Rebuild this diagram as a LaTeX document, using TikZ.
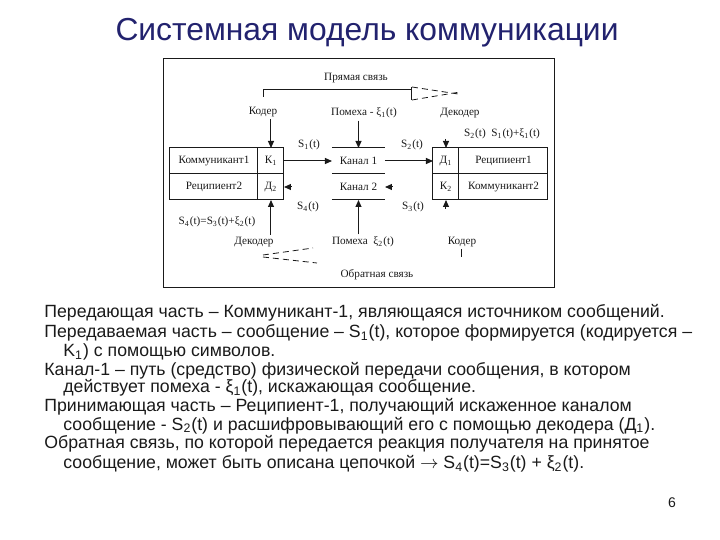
\documentclass[tikz,border=0pt]{standalone}
\usepackage{fontspec}
\setmainfont{Liberation Sans}
\newfontfamily\dgfont{Liberation Serif}
\usetikzlibrary{arrows.meta,positioning}
\definecolor{cTitle}{HTML}{22226E}
\definecolor{cInk}{HTML}{1A1A1A}
\tikzset{
  >={Triangle[length=3.5pt,width=3pt]},
  cell/.style ={draw=cInk,line width=0.5pt,minimum height=13pt,inner sep=0pt,
                outer sep=0pt,font=\dgfont\fontsize{5.6}{6}\selectfont,text=cInk},
  lbl/.style  ={font=\dgfont\fontsize{5.6}{6}\selectfont,inner sep=1pt,text=cInk},
  ln/.style   ={line width=0.5pt,cInk},
  ar/.style   ={->,line width=0.5pt,cInk},
  brk/.style  ={dash pattern=on 3pt off 2pt,line width=0.4pt,cInk},
  para/.style ={anchor=base west,inner sep=0pt,font=\fontsize{8.85}{10}\selectfont,text=cInk},
}

\begin{document}
\begin{tikzpicture}[x=0.5pt,y=-0.5pt]
\useasboundingbox (0,0) rectangle (720,540);
% title
\node[font=\fontsize{15.9}{18}\selectfont,text=cTitle,anchor=base] (title) at (367,41)
   {Системная модель коммуникации};
% frame
\draw[ln] (164,59) rectangle (555,288);
% sender block
\node[cell,minimum width=44pt] (kom1) at (214,161) {Коммуникант1};
\node[cell,minimum width=13pt,right=0pt of kom1] (k1) {К\textsubscript{1}};
\node[cell,minimum width=44pt,below=0pt of kom1] (rec2) {Реципиент2};
\node[cell,minimum width=13pt,right=0pt of rec2] (d2) {Д\textsubscript{2}};
% channel
\node[cell,draw=none,minimum width=26.5pt] (kan1) at (358.5,161) {Канал 1};
\node[cell,draw=none,minimum width=26.5pt,below=0pt of kan1] (kan2) {Канал 2};
\draw[ln] (kan1.north west) -- (kan1.north east)
          (kan1.south west) -- (kan1.south east)
          (kan2.south west) -- (kan2.south east);
% receiver block
\node[cell,minimum width=13pt] (d1) at (446,161) {Д\textsubscript{1}};
\node[cell,minimum width=44.5pt,right=0pt of d1] (rec1) {Реципиент1};
\node[cell,minimum width=13pt,below=0pt of d1] (k2) {К\textsubscript{2}};
\node[cell,minimum width=44.5pt,right=0pt of k2] (kom2) {Коммуникант2};
% signals
\draw[ar] (k1) -- (kan1);
\draw[ar] (kan1) -- (d1);
\draw[ar] ([xshift=4pt]kan2.east) -- (kan2.east);
\draw[ar] ([xshift=4pt]d2.east) -- (d2.east);
\node[lbl] (s1) at (309,145) {S\textsubscript{1}(t)};
\node[lbl] (s2) at (412,145) {S\textsubscript{2}(t)};
\node[lbl] (s4) at (308,207) {S\textsubscript{4}(t)};
\node[lbl] (s3) at (413,207) {S\textsubscript{3}(t)};
% forward link
\node[lbl] (pryam) at (356,78) {Прямая связь};
\coordinate (pl) at (264,97);
\coordinate (pr) at (412,90);
\draw[ln] (pl) |- (pr);
\draw[ln] (412,87) -- (412,100);
\draw[brk] (412,87) -- (458,94) (412,100) -- (460,92);
\node[lbl] (kod1) at (263,112) {Кодер};
\node[lbl] (pom1) at (364,113) {Помеха - ξ\textsubscript{1}(t)};
\node[lbl] (dek1) at (460,113) {Декодер};
\node[lbl] (eq1) at (502,134) {S\textsubscript{2}(t)~~S\textsubscript{1}(t)+ξ\textsubscript{1}(t)};
\draw[ar] (kod1.south -| k1) -- (k1.north);
\draw[ar] (pom1.south -| kan1) -- (kan1.north);
\draw[ar] ([yshift=4.5pt]d1.north) -- (d1.north);
% feedback link
\node[lbl] (eq2) at (217,222) {S\textsubscript{4}(t)=S\textsubscript{3}(t)+ξ\textsubscript{2}(t)};
\node[lbl] (dek2) at (254,242) {Декодер};
\node[lbl] (pom2) at (363,242) {Помеха~~ξ\textsubscript{2}(t)};
\node[lbl] (kod2) at (462,242) {Кодер};
\node[lbl] (obr) at (377,275) {Обратная связь};
\draw[ar] (dek2.north -| d2) -- (d2.south);
\draw[ar] (pom2.north -| kan2) -- (kan2.south);
\draw[ar] ([yshift=-4.5pt]k2.south) -- (k2.south);
\draw[ln] (kod2.south) -- ++(0,8);
\draw[brk] (263,255) -- (313,248) (263,257) -- (317,263);
% text
\node[para] (l1) at (44,318) {Передающая часть – Коммуникант-1, являющаяся источником сообщений.};
\node[para] (l2) at (44,338) {Передаваемая часть – сообщение – S\textsubscript{1}(t), которое формируется (кодируется –};
\node[para] (l3) at (63,357) {K\textsubscript{1}) с помощью символов.};
\node[para] (l4) at (44,376) {Канал-1 – путь (средство) физической передачи сообщения, в котором};
\node[para] (l5) at (63,393) {действует помеха - ξ\textsubscript{1}(t), искажающая сообщение.};
\node[para] (l6) at (44,412) {Принимающая часть – Реципиент-1, получающий искаженное каналом};
\node[para] (l7) at (63,430.5) {сообщение - S\textsubscript{2}(t) и расшифровывающий его с помощью декодера (Д\textsubscript{1}).};
\node[para] (l8) at (44,449) {Обратная связь, по которой передается реакция получателя на принятое};
\node[para] (l9) at (63,469) {сообщение, может быть описана цепочкой $\rightarrow$ S\textsubscript{4}(t)=S\textsubscript{3}(t) + ξ\textsubscript{2}(t).};
\node[font=\fontsize{7}{8}\selectfont,text=cInk] (pg) at (672,503) {6};
\end{tikzpicture}
\end{document}
